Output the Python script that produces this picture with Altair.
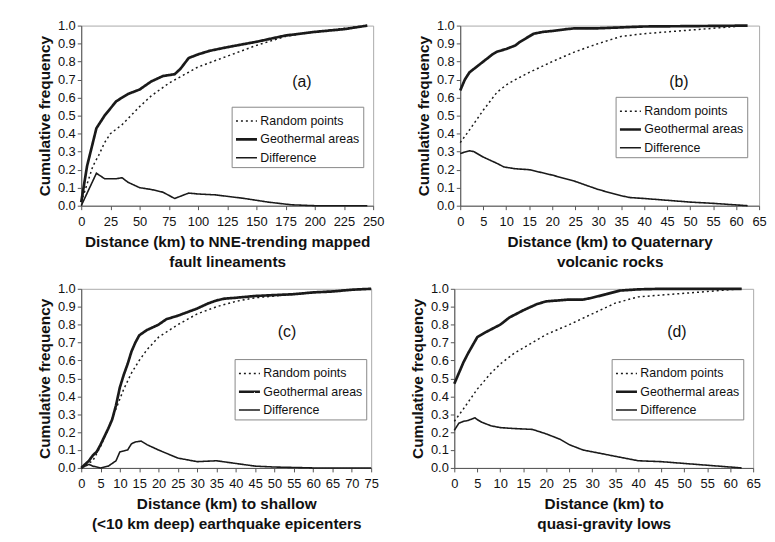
import altair as alt
import pandas as pd

FONT = "Liberation Sans"
SERIES = ["Random points", "Geothermal areas", "Difference"]

# ---- Panel (a): NNE-trending mapped fault lineaments ----
a_geo_x = [0, 5, 13, 20, 30, 35, 40, 50, 60, 70, 75, 80, 85, 92, 100, 110, 125, 150, 175, 200, 225, 245]
a_geo_y = [0.02, 0.22, 0.43, 0.50, 0.58, 0.60, 0.62, 0.645, 0.69, 0.72, 0.725, 0.73, 0.76, 0.82, 0.84, 0.86, 0.88, 0.91, 0.945, 0.965, 0.98, 1.0]
a_rnd_x = [0, 5, 10, 15, 20, 25, 35, 50, 60, 75, 100, 125, 150, 175, 200, 245]
a_rnd_y = [0.02, 0.12, 0.22, 0.28, 0.35, 0.40, 0.45, 0.55, 0.61, 0.68, 0.77, 0.83, 0.89, 0.94, 0.965, 1.0]
a_dif_x = [0, 13, 20, 30, 35, 40, 50, 60, 70, 80, 92, 100, 115, 140, 160, 180, 200, 245]
a_dif_y = [0.0, 0.18, 0.15, 0.15, 0.155, 0.13, 0.10, 0.09, 0.075, 0.04, 0.07, 0.065, 0.06, 0.04, 0.02, 0.005, 0.0, 0.0]

# ---- Panel (b): Quaternary volcanic rocks ----
b_geo_x = [0, 1, 2, 4, 5, 7, 8, 10, 12, 13, 15, 16, 18, 20, 23, 25, 30, 35, 40, 50, 62.5]
b_geo_y = [0.64, 0.70, 0.74, 0.78, 0.80, 0.84, 0.855, 0.87, 0.89, 0.91, 0.94, 0.955, 0.965, 0.97, 0.98, 0.985, 0.985, 0.99, 0.995, 0.997, 1.0]
b_rnd_x = [0, 2, 5, 8, 10, 12, 15, 20, 25, 30, 35, 40, 45, 50, 55, 62.5]
b_rnd_y = [0.35, 0.42, 0.53, 0.63, 0.67, 0.70, 0.74, 0.80, 0.855, 0.90, 0.94, 0.955, 0.965, 0.975, 0.985, 1.0]
b_dif_x = [0, 2, 3, 5, 8, 9.5, 12, 15, 20, 25, 30, 35, 37, 40, 45, 50, 55, 62.5]
b_dif_y = [0.29, 0.305, 0.30, 0.27, 0.235, 0.215, 0.205, 0.20, 0.17, 0.135, 0.09, 0.055, 0.045, 0.04, 0.03, 0.02, 0.013, 0.0]

# ---- Panel (c): shallow earthquake epicenters ----
c_geo_x = [0, 2, 3, 4, 5, 7, 8, 9, 10, 11, 12, 13, 14, 15, 16, 17, 20, 22, 25, 30, 33, 35, 37, 40, 45, 50, 55, 60, 65, 70, 75]
c_geo_y = [0.0, 0.04, 0.07, 0.09, 0.13, 0.22, 0.27, 0.35, 0.45, 0.52, 0.58, 0.65, 0.70, 0.74, 0.755, 0.77, 0.80, 0.83, 0.85, 0.89, 0.92, 0.935, 0.945, 0.95, 0.96, 0.965, 0.97, 0.98, 0.985, 0.995, 1.0]
c_rnd_x = [0, 3, 5, 7, 9, 11, 13, 15, 17, 20, 25, 30, 35, 40, 45, 50, 55, 60, 70, 75]
c_rnd_y = [0.0, 0.04, 0.12, 0.22, 0.33, 0.44, 0.53, 0.60, 0.66, 0.73, 0.80, 0.86, 0.90, 0.93, 0.95, 0.96, 0.97, 0.98, 0.995, 1.0]
c_dif_x = [0, 1, 2, 3, 5, 7, 9, 10, 11, 12, 13, 14, 15.5, 17, 20, 25, 30, 35, 40, 45, 50, 60, 75]
c_dif_y = [0.0, 0.01, 0.02, 0.01, 0.0, 0.01, 0.04, 0.09, 0.095, 0.10, 0.135, 0.145, 0.15, 0.13, 0.10, 0.055, 0.035, 0.04, 0.025, 0.01, 0.005, 0.0, 0.0]

# ---- Panel (d): quasi-gravity lows ----
d_geo_x = [0, 2, 3, 5, 7, 10, 12, 15, 18, 20, 25, 28, 30, 33, 36, 40, 45, 62.5]
d_geo_y = [0.47, 0.59, 0.64, 0.73, 0.76, 0.80, 0.84, 0.88, 0.915, 0.93, 0.94, 0.94, 0.95, 0.97, 0.99, 0.997, 1.0, 1.0]
d_rnd_x = [0, 2, 5, 8, 10, 13, 15, 20, 25, 30, 35, 40, 45, 50, 55, 62.5]
d_rnd_y = [0.26, 0.33, 0.44, 0.53, 0.58, 0.64, 0.67, 0.745, 0.80, 0.86, 0.92, 0.955, 0.965, 0.975, 0.985, 1.0]
d_dif_x = [0, 1, 2, 3, 4.5, 5, 6, 8, 10, 13, 17, 20, 23, 25, 28, 30, 35, 40, 45, 50, 55, 62.5]
d_dif_y = [0.21, 0.25, 0.26, 0.265, 0.28, 0.27, 0.255, 0.235, 0.225, 0.22, 0.215, 0.19, 0.16, 0.13, 0.10, 0.09, 0.065, 0.04, 0.035, 0.025, 0.015, 0.0]

a_title = ["Distance (km) to NNE-trending mapped", "fault lineaments"]
b_title = ["Distance (km) to Quaternary", "volcanic rocks"]
c_title = ["Distance (km) to shallow", "(<10 km deep) earthquake epicenters"]
d_title = ["Distance (km) to", "quasi-gravity lows"]

x_max = {"a": 250, "b": 65, "c": 75, "d": 65}
x_step = {"a": 25, "b": 5, "c": 5, "d": 5}
y_ticks = [i / 10 for i in range(11)]


def frame(rx, ry, gx, gy, dx, dy):
    rows = []
    for s, xs, ys in ((SERIES[0], rx, ry), (SERIES[1], gx, gy), (SERIES[2], dx, dy)):
        for i, (x, y) in enumerate(zip(xs, ys)):
            rows.append({"series": s, "x": x, "y": y, "order": i})
    return pd.DataFrame(rows)


def panel(key, df, xtitle, width, height, lx, ly, tx, ty):
    xmax = x_max[key]
    ticks = list(range(0, xmax + 1, x_step[key]))
    leg = alt.Legend(title=None, orient="none", legendX=lx, legendY=ly)
    lines = alt.Chart(df).mark_line(color="#1a1a1a").encode(
        x=alt.X("x:Q", scale=alt.Scale(domain=[0, xmax], nice=False, zero=False),
                axis=alt.Axis(values=ticks, title=xtitle, format="d")),
        y=alt.Y("y:Q", scale=alt.Scale(domain=[0, 1], nice=False),
                axis=alt.Axis(values=y_ticks, format=".1f", title="Cumulative frequency")),
        order="order:Q",
        strokeDash=alt.StrokeDash("series:N", scale=alt.Scale(domain=SERIES, range=[[2, 3], [1, 0], [1, 0]]),
                                  legend=leg),
        strokeWidth=alt.StrokeWidth("series:N", scale=alt.Scale(type="ordinal", domain=SERIES, range=[1.5, 2.7, 1.6]),
                                    legend=leg),
    )
    label = alt.Chart(pd.DataFrame({"t": [f"({key})"]})).mark_text(
        font=FONT, fontSize=16, color="#111", align="center", baseline="middle"
    ).encode(text="t:N", x=alt.value(tx), y=alt.value(ty))
    return alt.layer(lines, label).properties(width=width, height=height)


pa = panel("a", frame(a_rnd_x, a_rnd_y, a_geo_x, a_geo_y, a_dif_x, a_dif_y), a_title, 295, 182, 152, 82, 223, 57)
pb = panel("b", frame(b_rnd_x, b_rnd_y, b_geo_x, b_geo_y, b_dif_x, b_dif_y), b_title, 302, 182, 157, 72, 221, 57)
pc = panel("c", frame(c_rnd_x, c_rnd_y, c_geo_x, c_geo_y, c_dif_x, c_dif_y), c_title, 293, 181, 155, 71, 208, 44)
pd_ = panel("d", frame(d_rnd_x, d_rnd_y, d_geo_x, d_geo_y, d_dif_x, d_dif_y), d_title, 302, 181, 159, 71, 225, 44)

top = alt.hconcat(pa, pb, spacing=31).resolve_legend(strokeDash="independent", strokeWidth="independent")
bottom = alt.hconcat(pc, pd_, spacing=31).resolve_legend(strokeDash="independent", strokeWidth="independent")

chart = alt.vconcat(top, bottom, spacing=12).resolve_legend(
    strokeDash="independent", strokeWidth="independent"
).properties(
    padding={"left": 29, "top": 8, "right": 0, "bottom": 0}
).configure(
    font=FONT, background="white"
).configure_view(
    stroke="#aaa", strokeWidth=1
).configure_axis(
    labelFont=FONT, titleFont=FONT, labelFontSize=13, titleFontSize=15.5, titleFontWeight="bold",
    labelColor="#111", titleColor="#111", domainColor="#555", tickColor="#555", tickSize=4,
    grid=False, labelPadding=2
).configure_axisY(
    titlePadding=5
).configure_axisX(
    titlePadding=6, titleLineHeight=20, labelFlush=False, labelPadding=6
).configure_legend(
    labelFont=FONT, labelFontSize=12.5, labelColor="#111", symbolType="stroke", symbolSize=450,
    symbolStrokeColor="#1a1a1a", strokeColor="#888", fillColor="white", padding=3, rowPadding=0,
    labelOffset=2
)

chart.save("out.html", embed_options={"renderer": "svg", "actions": False})
